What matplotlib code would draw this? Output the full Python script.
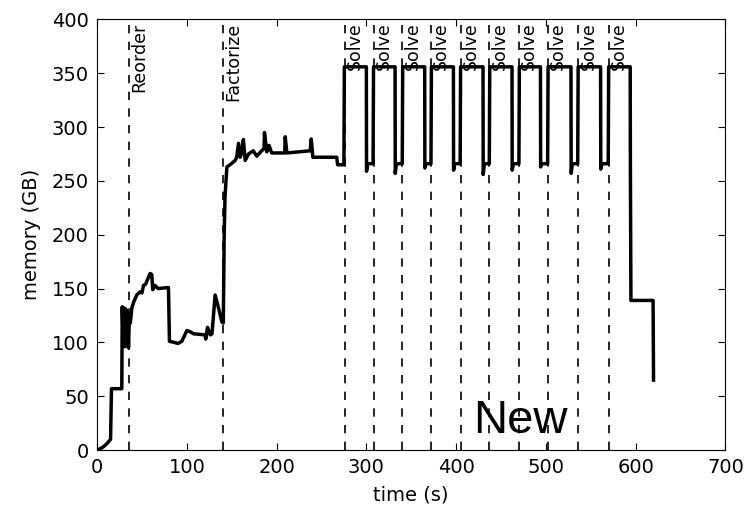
from matplotlib import pyplot as plt

# memory trace (time in s, memory in GB)
time_s = [0, 3, 7, 11, 15, 16, 27.5, 28, 29, 30, 31, 32, 33, 34, 35, 36, 37, 38.7, 41, 44.2,
          48, 50, 51.7, 54, 57, 59, 60.9, 62, 64.4, 68, 79.5, 80.6, 86, 90, 94.4, 100, 103.6,
          107.4, 120.4, 121, 123, 126, 128, 131.5, 135, 139, 140.6, 141.6, 142.5, 144.6, 148,
          151, 153.8, 155.5, 157.6, 159.4, 161, 163, 165, 168.7, 174, 178, 183.3, 186, 186.5,
          189, 191.6, 194.5, 207.5, 209, 209.6, 211.4, 237.5, 238.6, 240.4, 267, 268, 272.5,
          275, 275.5,
          300, 300.2, 301.5, 307.5, 308,
          332, 332.2, 333.5, 340, 340.5,
          365, 365.2, 366.5, 372, 372.5,
          397, 397.2, 398.5, 404.5, 405,
          430, 430.2, 431.5, 437, 437.5,
          462.3, 462.5, 463.8, 470, 470.5,
          494, 494.2, 495.5, 502, 502.5,
          528, 528.2, 529.5, 535.5, 536,
          561, 561.2, 562.5, 569.5, 570,
          594, 594.2, 594.8, 619.5, 620]
memory_gb = [0, 1, 3, 6, 10, 57, 57, 133, 100, 132, 96, 131, 98, 128, 95, 126, 118, 132, 138, 144,
             147, 146, 153, 154, 160, 164, 163, 149, 153, 150, 151, 101, 100, 99, 101, 111, 110,
             108, 107, 103, 114, 107, 108, 144, 133, 119, 118, 200, 235, 263, 265,
             267, 269, 272, 285, 272, 276, 288.5, 269, 275, 278, 273, 278, 280, 295,
             277, 283, 276, 276, 276, 291, 276, 278, 289, 272, 272, 265, 265,
             265, 356,
             356, 259, 266, 266, 356,
             356, 257, 266, 266, 356,
             356, 262, 266, 266, 356,
             356, 260, 266, 266, 356,
             356, 256, 266, 266, 356,
             356, 260, 266, 266, 356,
             356, 263, 266, 266, 356,
             356, 257, 266, 266, 356,
             356, 261, 266, 266, 356,
             356, 266, 139, 139, 65]

# phase markers
phase_times = [35, 140, 276, 308, 340, 372, 405, 437, 470, 502, 536, 570]
phase_names = ['Reorder', 'Factorize'] + ['Solve'] * 10

fig = plt.figure(figsize=(7.47, 5.12), dpi=100)
ax = fig.add_axes([0.13, 0.121, 0.841, 0.841])

ax.plot(time_s, memory_gb, color='black', lw=2.5)
for t, name in zip(phase_times, phase_names):
    ax.axvline(t, color='black', lw=1.2, dashes=(5, 5))
    ax.text(t + 1.5, 397, name, rotation=90, ha='left', va='top', fontsize=12.5)

ax.text(419, 16, 'New', fontsize=34, family='Liberation Sans')

ax.set_xlim(0, 700)
ax.set_ylim(0, 400)
ax.set_xticks(range(0, 701, 100))
ax.set_yticks(range(0, 401, 50))
ax.tick_params(direction='in', top=True, right=True, length=5, labelsize=14, pad=6)
ax.set_xlabel('time (s)', fontsize=14, labelpad=6)
ax.set_ylabel('memory (GB)', fontsize=14, labelpad=8)

plt.savefig('out.png', dpi=100)
